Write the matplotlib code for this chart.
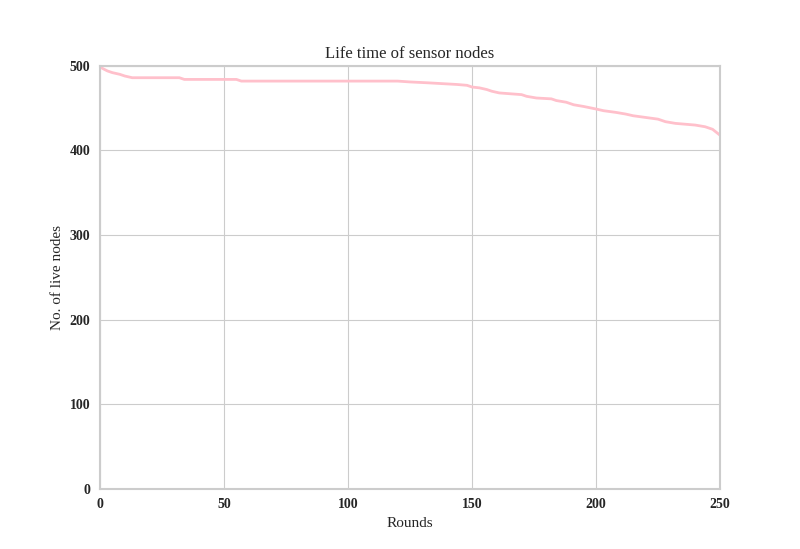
import matplotlib
matplotlib.use("Agg")
import matplotlib.pyplot as plt
import seaborn as sns

sns.set_style("whitegrid")
plt.rcParams['font.family'] = ['Liberation Serif', 'DejaVu Serif']

# rounds where the number of live nodes changes, and the count at that round
rounds = [0, 1, 3, 5, 8, 10, 13, 32, 34, 55, 57, 120, 125, 132, 138, 144, 148,
          150, 153, 156, 158, 161, 170, 172, 176, 182, 184, 188, 191, 195, 200,
          203, 208, 212, 215, 220, 225, 228, 232, 240, 244, 247, 250]
alive = [500, 497, 494, 492, 490, 488, 486, 486, 484, 484, 482, 482, 481, 480,
         479, 478, 477, 475, 474, 472, 470, 468, 466, 464, 462, 461, 459, 457,
         454, 452, 449, 447, 445, 443, 441, 439, 437, 434, 432, 430, 428, 425,
         418]

fig, ax = plt.subplots(figsize=(8, 5.49), dpi=100)
ax.plot(rounds, alive, color='pink', linewidth=2)
ax.set_xlim(0, 250)
ax.set_ylim(0, 500)
ax.set_title("Life time of sensor nodes", fontsize=12)
ax.set_xlabel("Rounds", fontsize=11)
ax.set_ylabel("No. of live nodes", fontsize=11)
for lbl in ax.get_xticklabels() + ax.get_yticklabels():
    lbl.set_fontweight('bold')
    lbl.set_fontsize(10)
for s in ax.spines.values():
    s.set_color('#cccccc')
    s.set_linewidth(1.5)
fig.savefig("out.png")
